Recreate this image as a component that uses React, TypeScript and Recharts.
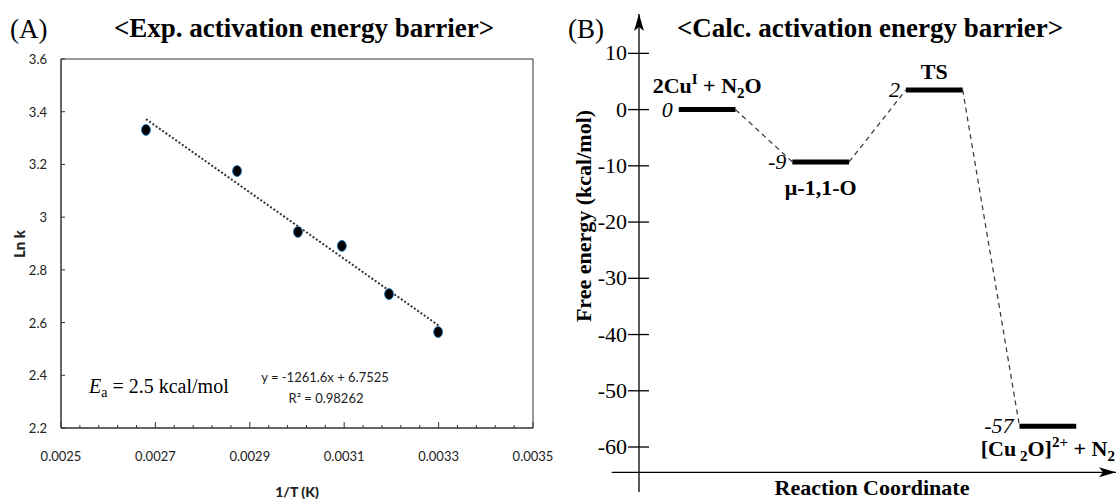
import { ComposedChart, Scatter, Line, XAxis, YAxis, ReferenceArea, ReferenceLine, ReferenceDot, LabelList } from 'recharts';

// Panel A: Arrhenius plot
const invT = [0.00268, 0.002873, 0.003002, 0.003095, 0.003195, 0.003299];
const lnK = [3.331, 3.175, 2.944, 2.891, 2.708, 2.564];
// trend line end points
const trendX = [0.00268, 0.0033];
const trendY = [3.372, 2.589];

const X_MAJOR = [0.0025, 0.0027, 0.0029, 0.0031, 0.0033, 0.0035];
const Y_TICKS_A = [2.2, 2.4, 2.6, 2.8, 3, 3.2, 3.4, 3.6];

// Panel B: energy profile
const levelPos = [0, 1, 2, 3];
const levelEnergy = [0, -9.3, 3.5, -56.3];
const levelText = ['0', '-9', '2', '-57'];
const Y_TICKS_B = [10, 0, -10, -20, -30, -40, -50, -60];

const SERIF = '"Liberation Serif", "Times New Roman", serif';
const SANS = 'Lato, "Open Sans", sans-serif';

// minor ticks on the x axis every 0.00004
const X_TICKS_ALL = Array.from({ length: 26 }, (_, k) => 0.0025 + k * 0.00004);

const points = invT.map((x, i) => ({ x, y: lnK[i] }));
const trend = trendX.map((x, i) => ({ x, y: trendY[i] }));

const HALF = 0.25;
const levels = levelPos.map((p, i) => [
    { x: p - HALF, y: levelEnergy[i] },
    { x: p, y: levelEnergy[i] },
    { x: p + HALF, y: levelEnergy[i] },
]);
const connectors = levelPos.slice(0, -1).map((p, i) => [
    { x: p + HALF, y: levelEnergy[i] },
    { x: levelPos[i + 1] - HALF, y: levelEnergy[i + 1] },
]);

// name segments: [text, 'sup' | 'sub' | '']
const levelNames: Array<Array<[string, string]>> = [
    [['2Cu', ''], ['I', 'sup'], [' + N', ''], ['2', 'sub'], ['O', '']],
    [['\u03bc-1,1-O', '']],
    [['TS', '']],
    [['[Cu', ''], [' 2', 'sub'], ['O]', ''], ['2+', 'sup'], [' + N', ''], ['2', 'sub']],
];
const nameDy = [-17, 33, -11, 30];

function renderName(segs: Array<[string, string]>) {
    let shift = 0;
    return segs.map(([t, kind], k) => {
        const target = kind === 'sup' ? -9 : kind === 'sub' ? 5 : 0;
        const dy = target - shift;
        shift = target;
        return (
            <tspan key={k} dy={dy} fontSize={kind ? 15 : 22}>
                {t}
            </tspan>
        );
    });
}

const ExpXTick = (props: any) => {
    const { x, y, payload } = props;
    const major = X_MAJOR.some((m) => Math.abs(m - payload.value) < 1e-9);
    return (
        <g>
            <line x1={x} x2={x} y1={y} y2={y - (major ? 6 : 3)} stroke="#333" />
            {major && (
                <text x={x} y={y + 33} textAnchor="middle" fontFamily={SANS} fontSize={13} fill="#222">
                    {payload.value.toFixed(4)}
                </text>
            )}
        </g>
    );
};

const ExpYTick = (props: any) => {
    const { x, y, payload } = props;
    return (
        <g>
            <line x1={x} x2={x + 4} y1={y} y2={y} stroke="#333" />
            <text x={x - 14} y={y + 5} textAnchor="end" fontFamily={SANS} fontSize={13} fill="#222">
                {String(payload.value)}
            </text>
        </g>
    );
};

const CalcYTick = (props: any) => {
    const { x, y, payload } = props;
    return (
        <g>
            <line x1={x - 11} x2={x + 10} y1={y} y2={y} stroke="#000" strokeWidth={1.3} />
            <text x={x - 12} y={y + 7} textAnchor="end" fontFamily={SERIF} fontSize={22} fill="#000">
                {String(payload.value)}
            </text>
        </g>
    );
};

const Marker = (props: any) => (
    <ellipse cx={props.cx} cy={props.cy} rx={4.5} ry={5.5} fill="#000" stroke="#2e86c1" strokeWidth={1} />
);

const UpArrow = (props: any) => (
    <polygon
        points={`${props.cx},${props.cy} ${props.cx - 5},${props.cy + 17} ${props.cx},${props.cy + 13} ${props.cx + 5},${props.cy + 17}`}
        fill="#000"
    />
);

const RightArrow = (props: any) => (
    <polygon
        points={`${props.cx},${props.cy} ${props.cx - 17},${props.cy - 5} ${props.cx - 13},${props.cy} ${props.cx - 17},${props.cy + 5}`}
        fill="#000"
    />
);

function levelLabel(i: number) {
    return (props: any) => {
        const { x, y, index } = props;
        if (index === 0) {
            return (
                <text x={x - 6} y={y + 7} textAnchor="end" fontFamily={SERIF} fontStyle="italic" fontSize={22} fill="#000">
                    {levelText[i]}
                </text>
            );
        }
        if (index === 1) {
            return (
                <text x={x} y={y + nameDy[i]} textAnchor="middle" fontFamily={SERIF} fontWeight="bold" fontSize={22} fill="#000">
                    {renderName(levelNames[i])}
                </text>
            );
        }
        return null;
    };
}

export default function App() {
    return (
        <div style={{ position: 'absolute', left: 0, top: 0, width: 1118, height: 499, background: '#fff' }}>
            <div style={{ position: 'absolute', left: 0, top: 0 }}>
                <ComposedChart width={560} height={499} margin={{ top: 59, right: 27, bottom: 0, left: 0 }}>
                    <XAxis
                        type="number"
                        dataKey="x"
                        domain={[0.0025, 0.0035]}
                        ticks={X_TICKS_ALL}
                        interval={0}
                        height={71}
                        tickSize={0}
                        tickMargin={0}
                        tick={<ExpXTick />}
                        axisLine={{ stroke: '#333' }}
                        allowDataOverflow
                    />
                    <YAxis
                        type="number"
                        dataKey="y"
                        domain={[2.2, 3.6]}
                        ticks={Y_TICKS_A}
                        interval={0}
                        width={61}
                        tickSize={0}
                        tickMargin={0}
                        tick={<ExpYTick />}
                        axisLine={{ stroke: '#333' }}
                        allowDataOverflow
                    />
                    <ReferenceArea x1={0.0025} x2={0.0035} y1={2.2} y2={3.6} fill="none" stroke="#333" strokeWidth={1} />
                    <Line
                        data={trend}
                        dataKey="y"
                        type="linear"
                        stroke="#333"
                        strokeWidth={2}
                        strokeDasharray="2 2"
                        dot={false}
                        activeDot={false}
                        isAnimationActive={false}
                    />
                    <Scatter data={points} dataKey="y" shape={<Marker />} isAnimationActive={false} />
                </ComposedChart>
            </div>

            <div style={{ position: 'absolute', left: 560, top: 0 }}>
                <ComposedChart width={558} height={499} margin={{ top: 14, right: 2, bottom: 7, left: 0 }}>
                    <XAxis type="number" dataKey="x" domain={[-0.6, 3.6]} hide allowDataOverflow />
                    <YAxis
                        type="number"
                        dataKey="y"
                        domain={[-68, 17]}
                        ticks={Y_TICKS_B}
                        interval={0}
                        width={79}
                        tickSize={0}
                        tickMargin={0}
                        tick={<CalcYTick />}
                        axisLine={{ stroke: '#000', strokeWidth: 1.3 }}
                        allowDataOverflow
                    />
                    <ReferenceLine
                        segment={[{ x: -0.84, y: -64.5 }, { x: 3.6, y: -64.5 }]}
                        stroke="#000"
                        strokeWidth={1.3}
                        ifOverflow="visible"
                    />
                    <ReferenceDot x={-0.6} y={17} shape={<UpArrow />} ifOverflow="visible" />
                    <ReferenceDot x={3.6} y={-64.5} shape={<RightArrow />} ifOverflow="visible" />
                    {connectors.map((c, i) => (
                        <Line
                            key={'c' + i}
                            data={c}
                            dataKey="y"
                            type="linear"
                            stroke="#333"
                            strokeWidth={1.2}
                            strokeDasharray="5 4"
                            dot={false}
                            activeDot={false}
                            isAnimationActive={false}
                        />
                    ))}
                    {levels.map((l, i) => (
                        <Line
                            key={'l' + i}
                            data={l}
                            dataKey="y"
                            type="linear"
                            stroke="#000"
                            strokeWidth={5}
                            dot={false}
                            activeDot={false}
                            isAnimationActive={false}
                        >
                            <LabelList dataKey="y" content={levelLabel(i)} />
                        </Line>
                    ))}
                </ComposedChart>
            </div>

            <svg width={1118} height={499} style={{ position: 'absolute', left: 0, top: 0, pointerEvents: 'none' }}>
                <text x={10} y={38} fontFamily={SERIF} fontSize={27} fill="#000">(A)</text>
                <text x={304} y={37} textAnchor="middle" fontFamily={SERIF} fontWeight="bold" fontSize={27} fill="#000">
                    {'<Exp. activation energy barrier>'}
                </text>
                <text x={568} y={38} fontFamily={SERIF} fontSize={27} fill="#000">(B)</text>
                <text x={870} y={37} textAnchor="middle" fontFamily={SERIF} fontWeight="bold" fontSize={27} fill="#000">
                    {'<Calc. activation energy barrier>'}
                </text>

                <text
                    transform="translate(25,244) rotate(-90)"
                    textAnchor="middle"
                    fontFamily={SANS}
                    fontWeight={900}
                    fontSize={15}
                    fill="#222"
                >
                    Ln k
                </text>
                <text x={297} y={497} textAnchor="middle" fontFamily={SANS} fontWeight={900} fontSize={14} fill="#222">
                    1/T (K)
                </text>
                <text x={89} y={393} fontFamily={SERIF} fontSize={20} fill="#000">
                    <tspan fontStyle="italic">E</tspan>
                    <tspan fontSize={14} dy={4}>a</tspan>
                    <tspan dy={-4}> = 2.5 kcal/mol</tspan>
                </text>
                <text x={325} y={382} textAnchor="middle" fontFamily={SANS} fontSize={13} fill="#222">
                    y = -1261.6x + 6.7525
                </text>
                <text x={326} y={403} textAnchor="middle" fontFamily={SANS} fontSize={13} fill="#222">
                    R² = 0.98262
                </text>

                <text
                    transform="translate(591,216) rotate(-90)"
                    textAnchor="middle"
                    fontFamily={SERIF}
                    fontWeight="bold"
                    fontSize={22}
                    fill="#000"
                >
                    Free energy (kcal/mol)
                </text>
                <text x={872} y={495} textAnchor="middle" fontFamily={SERIF} fontWeight="bold" fontSize={22} fill="#000">
                    Reaction Coordinate
                </text>
            </svg>
        </div>
    );
}
